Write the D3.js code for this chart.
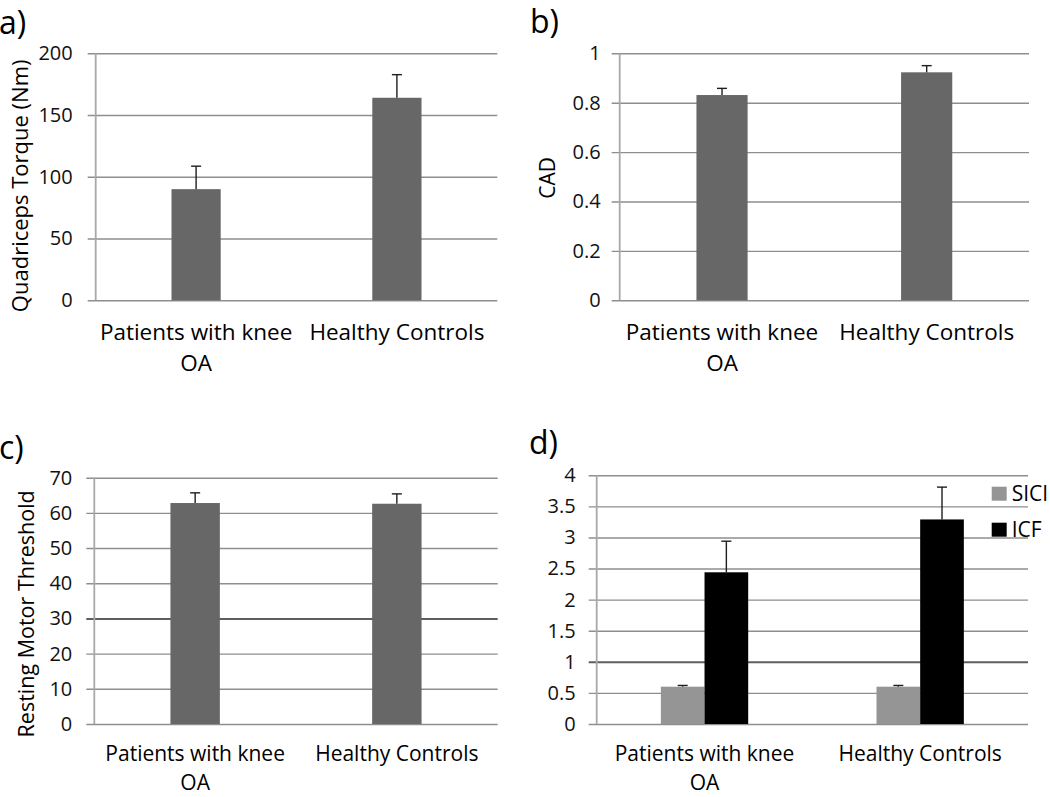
<!DOCTYPE html>
<html>
<head>
<meta charset="utf-8">
<script src="https://cdn.jsdelivr.net/npm/d3@7"></script>
<style>
  html, body { margin: 0; padding: 0; background: #ffffff; }
  svg { display: block; font-family: "Open Sans", "DejaVu Sans", sans-serif; }
</style>
</head>
<body>
<svg id="chart" width="1050" height="797"></svg>
<script>
// ---------- data ----------
const categories = ["Patients with knee OA", "Healthy Controls"];
const categoryLines = [["Patients with knee", "OA"], ["Healthy Controls"]];

const torqueMean = [90, 164];
const torqueErr = [18.6, 18.7];
const torqueTicks = [0, 50, 100, 150, 200];

const cadMean = [0.831, 0.923];
const cadErr = [0.027, 0.027];
const cadTicks = [0, 0.2, 0.4, 0.6, 0.8, 1];

const rmtMean = [62.8, 62.6];
const rmtErr = [2.9, 2.8];
const rmtTicks = [0, 10, 20, 30, 40, 50, 60, 70];

const seriesNames = ["SICI", "ICF"];
const siciMean = [0.60, 0.60];
const siciErr = [0.02, 0.02];
const icfMean = [2.44, 3.29];
const icfErr = [0.50, 0.52];
const ratioTicks = [0, 0.5, 1, 1.5, 2, 2.5, 3, 3.5, 4];

const panelLabels = ["a)", "b)", "c)", "d)"];
const yTitles = ["Quadriceps Torque (Nm)", "CAD", "Resting Motor Threshold", ""];

// ---------- styles ----------
const barGray = "#676767";
const seriesColors = ["#959595", "#000000"];
const gridColor = "#8e8e8e";
const axisColor = "#a8a8a8";
const refColor = "#5e5e5e";

const svg = d3.select("#chart");

function drawPanel(cfg) {
  const g = svg.append("g");
  const x = d3.scaleBand().domain(categories)
    .range([cfg.left, cfg.right])
    .paddingInner(1 - cfg.barFrac).paddingOuter((1 - cfg.barFrac) / 2);
  const y = d3.scaleLinear().domain([cfg.ticks[0], cfg.ticks[cfg.ticks.length - 1]])
    .range([cfg.bottom, cfg.top]);
  const W = cfg.right - cfg.left;

  // gridlines + tick labels
  const axis = d3.axisLeft(y).tickValues(cfg.ticks)
    .tickSize(-(W + 8)).tickPadding(cfg.labelPad)
    .tickFormat(d3.format("~g"));
  const ag = g.append("g").attr("transform", `translate(${cfg.left - 8},0)`).call(axis);
  ag.select(".domain").remove();
  ag.selectAll(".tick line")
    .attr("stroke", d => (cfg.refValue !== undefined && d === cfg.refValue) ? refColor : gridColor)
    .attr("stroke-width", d => (cfg.refValue !== undefined && d === cfg.refValue) ? 2 : 1.4);
  ag.selectAll(".tick text")
    .attr("fill", "#111").style("font-size", "20px")
    .style("font-family", "'Open Sans', sans-serif");

  // vertical axis line
  g.append("line")
    .attr("x1", cfg.left).attr("x2", cfg.left)
    .attr("y1", y.range()[1]).attr("y2", y.range()[0])
    .attr("stroke", axisColor).attr("stroke-width", 1.8);

  // bars
  const series = cfg.series;
  const sub = d3.scaleBand().domain(series.map(s => s.name)).range([0, x.bandwidth()]);
  series.forEach((s, si) => {
    const rows = categories.map((c, i) => ({ c, v: s.mean[i], e: s.err[i] }));
    g.selectAll(null).data(rows).enter().append("rect")
      .attr("x", d => x(d.c) + sub(s.name))
      .attr("y", d => y(d.v))
      .attr("width", sub.bandwidth())
      .attr("height", d => y(0) - y(d.v))
      .attr("fill", s.color);
    // error bars (upper only)
    const cx = d => x(d.c) + sub(s.name) + sub.bandwidth() / 2;
    g.selectAll(null).data(rows).enter().append("line")
      .attr("x1", cx).attr("x2", cx)
      .attr("y1", d => y(d.v)).attr("y2", d => y(d.v + d.e))
      .attr("stroke", "#1e1e1e").attr("stroke-width", 1.4);
    g.selectAll(null).data(rows).enter().append("line")
      .attr("x1", d => cx(d) - 5).attr("x2", d => cx(d) + 5)
      .attr("y1", d => y(d.v + d.e)).attr("y2", d => y(d.v + d.e))
      .attr("stroke", "#1e1e1e").attr("stroke-width", 1.4);
  });

  // category labels
  categories.forEach((c, i) => {
    const t = g.append("text")
      .attr("text-anchor", "middle")
      .attr("fill", "#000")
      .style("font-size", cfg.catSize + "px");
    categoryLines[i].forEach((ln, li) => {
      t.append("tspan")
        .attr("x", x(c) + x.bandwidth() / 2)
        .attr("y", cfg.bottom + cfg.catOffset + li * cfg.lineGap)
        .text(ln);
    });
  });

  // y title
  if (cfg.yTitle) {
    g.append("text")
      .attr("transform", `translate(${cfg.titleX},${(cfg.top + cfg.bottom) / 2 + cfg.titleDy}) rotate(-90)`)
      .attr("text-anchor", "middle")
      .attr("fill", "#000")
      .style("font-size", cfg.titleSize + "px")
      .text(cfg.yTitle);
  }

  // panel label
  g.append("text")
    .attr("x", cfg.labelX).attr("y", cfg.labelY)
    .attr("fill", "#000")
    .style("font-size", "32px")
    .text(cfg.label);

  // legend
  if (cfg.legend) {
    series.forEach((s, si) => {
      g.append("rect")
        .attr("x", cfg.legendX).attr("y", cfg.legendY + si * 36)
        .attr("width", 15).attr("height", 14)
        .attr("fill", s.color);
      g.append("text")
        .attr("x", cfg.legendX + 20).attr("y", cfg.legendY + 14 + si * 36)
        .attr("fill", "#000").style("font-size", "21px")
        .text(s.name);
    });
  }
}

drawPanel({
  left: 95.7, right: 497.3, top: 53.3, bottom: 300.3, barFrac: 0.245, labelPad: 15,
  catSize: 22.5, catOffset: 40, lineGap: 30.7,
  ticks: torqueTicks, series: [{ name: "v", mean: torqueMean, err: torqueErr, color: barGray }],
  yTitle: yTitles[0], titleX: 28, titleDy: 9, titleSize: 22,
  label: panelLabels[0], labelX: -1, labelY: 34
});
drawPanel({
  left: 619.7, right: 1029, top: 53.3, bottom: 300.3, barFrac: 0.25, labelPad: 11,
  catSize: 22.5, catOffset: 40, lineGap: 30.7,
  ticks: cadTicks, series: [{ name: "v", mean: cadMean, err: cadErr, color: barGray }],
  yTitle: yTitles[1], titleX: 555, titleDy: 1, titleSize: 21,
  label: panelLabels[1], labelX: 530, labelY: 33
});
drawPanel({
  left: 94.3, right: 497.7, top: 477.7, bottom: 724, barFrac: 0.245, labelPad: 14,
  catSize: 21, catOffset: 37, lineGap: 28.8,
  ticks: rmtTicks, series: [{ name: "v", mean: rmtMean, err: rmtErr, color: barGray }],
  refValue: 30,
  yTitle: yTitles[2], titleX: 34, titleDy: 13, titleSize: 21.5,
  label: panelLabels[2], labelX: -1, labelY: 459
});
drawPanel({
  left: 596.7, right: 1028, top: 475.3, bottom: 724, barFrac: 0.405, labelPad: 13,
  catSize: 21, catOffset: 37, lineGap: 28.8,
  ticks: ratioTicks,
  series: [
    { name: seriesNames[0], mean: siciMean, err: siciErr, color: seriesColors[0] },
    { name: seriesNames[1], mean: icfMean, err: icfErr, color: seriesColors[1] }
  ],
  refValue: 1,
  yTitle: null,
  label: panelLabels[3], labelX: 529, labelY: 454,
  legend: true, legendX: 991.7, legendY: 486.7
});
</script>
</body>
</html>
